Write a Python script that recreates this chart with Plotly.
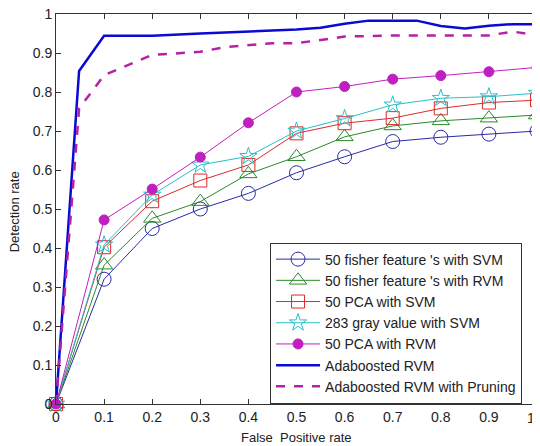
import plotly.graph_objects as go

fpr = [0, 0.1, 0.2, 0.3, 0.4, 0.5, 0.6, 0.7, 0.8, 0.9, 1.0]
fisher_svm = [0, 0.32, 0.45, 0.50, 0.54, 0.593, 0.634, 0.673, 0.684, 0.692, 0.70]
fisher_rvm = [0, 0.356, 0.476, 0.519, 0.59, 0.634, 0.685, 0.713, 0.726, 0.733, 0.741]
pca_svm = [0, 0.402, 0.52, 0.573, 0.613, 0.694, 0.72, 0.733, 0.758, 0.773, 0.779]
gray_svm = [0, 0.408, 0.536, 0.613, 0.635, 0.70, 0.732, 0.767, 0.784, 0.788, 0.797]
pca_rvm = [0, 0.472, 0.551, 0.633, 0.721, 0.80, 0.814, 0.833, 0.842, 0.852, 0.863]

ada_x = [0, 0.048, 0.1, 0.2, 0.3, 0.4, 0.5, 0.55, 0.6, 0.65, 0.75, 0.8, 0.85, 0.9, 0.95, 1.0]
ada_y = [0, 0.854, 0.944, 0.944, 0.95, 0.955, 0.96, 0.965, 0.975, 0.983, 0.983, 0.969, 0.963, 0.97, 0.974, 0.974]

prune_x = [0, 0.048, 0.1, 0.2, 0.3, 0.35, 0.45, 0.5, 0.6, 0.7, 0.8, 0.9, 0.95, 1.0]
prune_y = [0, 0.758, 0.843, 0.895, 0.903, 0.915, 0.925, 0.925, 0.942, 0.945, 0.945, 0.945, 0.955, 0.945]

tick_vals = [0, 0.1, 0.2, 0.3, 0.4, 0.5, 0.6, 0.7, 0.8, 0.9, 1.0]
tick_text = ["0", "0.1", "0.2", "0.3", "0.4", "0.5", "0.6", "0.7", "0.8", "0.9", "1"]

names = ["50 fisher feature 's with SVM", "50 fisher feature 's with RVM",
         "50 PCA with SVM", "283 gray value with SVM", "50 PCA with RVM",
         "Adaboosted RVM", "Adaboosted RVM with Pruning"]

FONT = "Arial, 'Liberation Sans', sans-serif"

fig = go.Figure()
specs = [
    (fisher_svm, "#2a2aa6", "circle-open", 14),
    (fisher_rvm, "#2a8a2a", "triangle-up-open", 15),
    (pca_svm, "#e02828", "square-open", 13),
    (gray_svm, "#28c0c8", "star-open", 13),
    (pca_rvm, "#c020c0", "circle", 10),
]
for i, (ys, col, sym, sz) in enumerate(specs):
    fig.add_trace(go.Scatter(
        x=fpr, y=ys, name=names[i], mode="lines+markers",
        line=dict(color=col, width=1),
        marker=dict(symbol=sym, size=sz, color=col, line=dict(color=col, width=1)),
        cliponaxis=False))

fig.add_trace(go.Scatter(x=ada_x, y=ada_y, name=names[5], mode="lines",
                         line=dict(color="#0a0ad2", width=2.5)))
fig.add_trace(go.Scatter(x=prune_x, y=prune_y, name=names[6], mode="lines",
                         line=dict(color="#b420a8", width=2.5, dash="dash")))

axis_common = dict(showgrid=False, zeroline=False, showline=True, linecolor="#333",
                   linewidth=1, mirror="ticks", ticks="inside", ticklen=5,
                   tickcolor="#333", automargin=False, ticklabeloverflow="allow",
                   tickfont=dict(family=FONT, size=14, color="#222"))

# last x tick label is drawn as an annotation so it stays visible at the right edge
x_ticktext = tick_text[:-1] + [""]
fig.update_xaxes(range=[0, 1], tickvals=tick_vals, ticktext=x_ticktext, **axis_common)
fig.update_yaxes(range=[0, 1], tickvals=tick_vals, ticktext=tick_text, **axis_common)

fig.add_annotation(text=tick_text[-1], xref="x", yref="paper",
                   x=tick_vals[-1], y=0, yshift=-4, showarrow=False,
                   xanchor="right", yanchor="top",
                   font=dict(family=FONT, size=14, color="#222"))
fig.add_annotation(text="False  Positive rate", xref="paper", yref="paper",
                   x=0.501, y=-0.085, showarrow=False, xanchor="center", yanchor="middle",
                   font=dict(family=FONT, size=13, color="#222"))
fig.add_annotation(text="Detection rate", xref="paper", yref="paper",
                   x=-0.087, y=0.492, showarrow=False, textangle=-90,
                   xanchor="center", yanchor="middle",
                   font=dict(family=FONT, size=13, color="#222"))

fig.update_layout(
    width=540, height=446,
    margin=dict(l=48, r=11, t=6, b=50, autoexpand=False),
    plot_bgcolor="white", paper_bgcolor="white",
    font=dict(family=FONT, size=13, color="#222"),
    showlegend=True,
    legend=dict(x=0.445, y=0.414, xanchor="left", yanchor="top",
                bgcolor="white", bordercolor="#333", borderwidth=1,
                font=dict(family=FONT, size=14, color="#222"), itemwidth=44,
                tracegroupgap=0),
)

fig.write_html("out.html")
